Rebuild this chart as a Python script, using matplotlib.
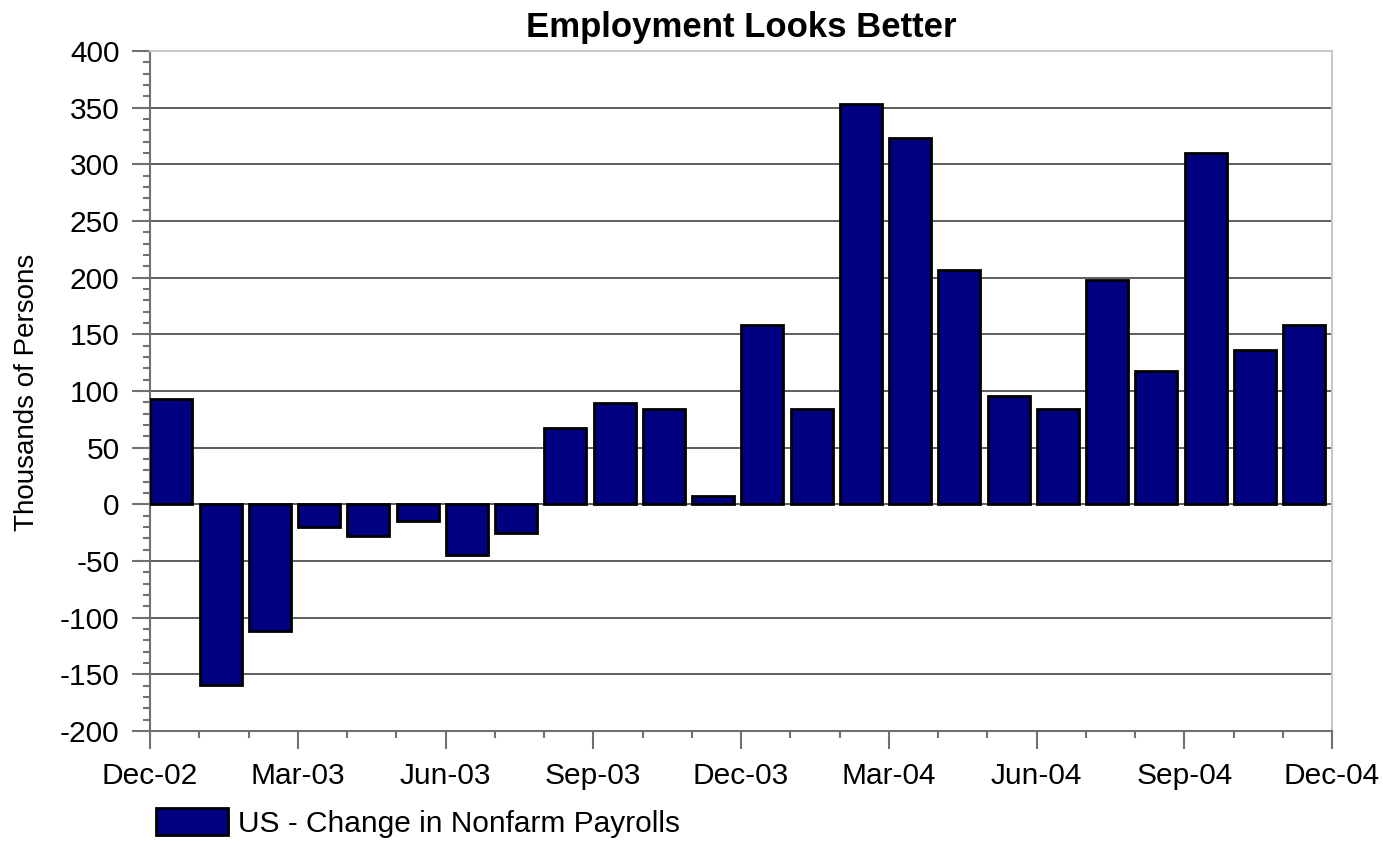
import numpy as np
import matplotlib.pyplot as plt
from matplotlib.ticker import MultipleLocator

plt.rcParams['font.family'] = ['Liberation Sans', 'DejaVu Sans']
plt.rcParams['axes.unicode_minus'] = False

# monthly change in nonfarm payrolls, Dec-02 .. Nov-04 (thousands)
payrolls = [93, -159, -112, -20, -28, -15, -45, -25, 67, 89, 84, 7,
            158, 84, 353, 323, 207, 96, 84, 198, 118, 310, 136, 158]
tick_labels = ['Dec-02', 'Mar-03', 'Jun-03', 'Sep-03', 'Dec-03',
               'Mar-04', 'Jun-04', 'Sep-04', 'Dec-04']
series_name = 'US - Change in Nonfarm Payrolls'

fig = plt.figure(figsize=(13.83, 8.41), dpi=100)
ax = fig.add_axes([150 / 1383, 1 - 731 / 841, 1182 / 1383, 680 / 841])

x = np.arange(len(payrolls))
ax.bar(x + 0.01, payrolls, width=0.85, align='edge', color='#000080',
       edgecolor='black', linewidth=2, zorder=3, label=series_name)

ax.set_xlim(0, 24)
ax.set_ylim(-200, 400)
ax.xaxis.set_minor_locator(MultipleLocator(1))
ax.set_xticks(np.arange(0, 25, 3))
ax.set_xticklabels(tick_labels)
ax.yaxis.set_major_locator(MultipleLocator(50))
ax.yaxis.set_minor_locator(MultipleLocator(10))

ax.grid(axis='y', which='major', color='#505050', linewidth=1.3, zorder=1)
ax.tick_params(which='major', length=13, width=1.5, color='#707070',
               labelsize=21.5, pad=9)
ax.tick_params(which='minor', length=5, width=1.5, color='#707070')

for s in ['top', 'right']:
    ax.spines[s].set_color('#c8c8c8')
    ax.spines[s].set_linewidth(1.5)
for s in ['left', 'bottom']:
    ax.spines[s].set_color('#707070')
    ax.spines[s].set_linewidth(1.5)

fig.text(741 / 1383, 1 - 28 / 841, 'Employment Looks Better', ha='center',
         va='center', fontsize=25, fontweight='bold')
fig.text(27 / 1383, 1 - 392 / 841, 'Thousands of Persons', rotation=90,
         ha='center', va='center', fontsize=20)

fig.legend(loc='center left', bbox_to_anchor=(156 / 1383, 1 - 823 / 841),
           frameon=False, fontsize=21.5, handlelength=2.4, handleheight=1.0,
           handletextpad=0.35, borderpad=0, borderaxespad=0)

fig.savefig('out.png', dpi=100)
